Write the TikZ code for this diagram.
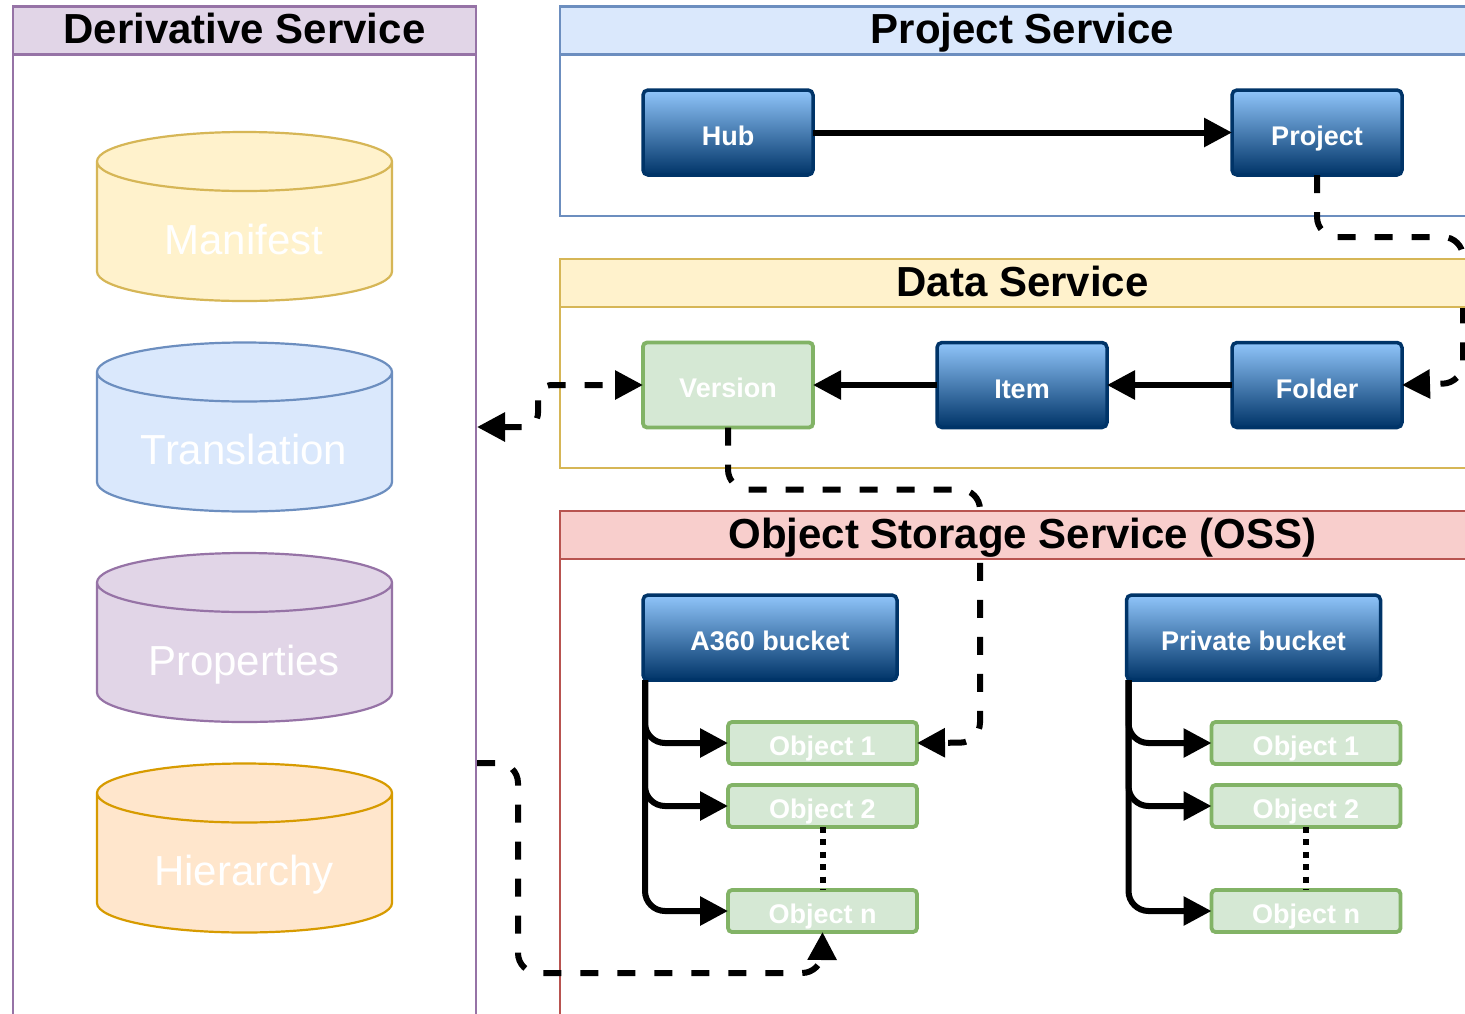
\documentclass[tikz,border=0pt]{standalone}
\usepackage{fontspec}
\setmainfont{Liberation Sans}
\usetikzlibrary{arrows.meta}
\definecolor{blueline}{HTML}{6C8EBF}
\definecolor{bluefill}{HTML}{DAE8FC}
\definecolor{yellowline}{HTML}{D6B656}
\definecolor{yellowfill}{HTML}{FFF2CC}
\definecolor{redline}{HTML}{B85450}
\definecolor{redfill}{HTML}{F8CECC}
\definecolor{purpleline}{HTML}{9673A6}
\definecolor{purplefill}{HTML}{E1D5E7}
\definecolor{orangeline}{HTML}{D79B00}
\definecolor{orangefill}{HTML}{FFE6CC}
\definecolor{greenline}{HTML}{82B366}
\definecolor{greenfill}{HTML}{D5E8D4}
\definecolor{navy}{HTML}{003468}
\definecolor{sky}{HTML}{90C5FA}
\begin{document}
\begin{tikzpicture}[x=1pt, y=-1pt, outer sep=0pt,
	lane/.style = {draw, line width=2.2pt, minimum height=48pt, text height=30pt, text depth=4pt, inner ysep=0pt, font=\fontsize{42}{42}\selectfont\bfseries, text=black},
	body/.style = {draw, line width=2.2pt},
	main/.style = {draw=navy, line width=3.5pt, rounded corners=5pt, top color=sky, bottom color=navy, text=white, minimum height=85pt, text height=28pt, text depth=2pt, font=\fontsize{27}{27}\selectfont\bfseries},
	green/.style = {draw=greenline, fill=greenfill, line width=3.8pt, rounded corners=4pt, text=white, text height=27pt, text depth=2pt, inner ysep=0pt, font=\fontsize{27}{27}\selectfont\bfseries},
	object/.style = {green, minimum width=189pt, minimum height=42pt},
	store/.style = {line width=2.2pt},
	storename/.style = {text=white, text height=30pt, text depth=0pt, inner sep=0pt, font=\fontsize{42}{42}\selectfont},
	solid line/.style = {line width=6pt, rounded corners=20pt, -{Triangle[length=28pt,width=28pt]}},
	dash line/.style = {solid line, dash pattern=on 18pt off 19pt},
	dot line/.style = {line width=6pt, dash pattern=on 6pt off 6.4pt}]
	\path[use as bounding box, clip] (0,0) rectangle (1465,1013);
	\fill[white] (0,0) rectangle (1465,1013);

	\node[body, draw=purpleline, minimum width=463pt, minimum height=1100pt] (derivativebody) at (244.5,600) {};
	\node[body, draw=blueline, minimum width=925pt, minimum height=200pt] (projectbody) at (1022.5,116) {};
	\node[body, draw=yellowline, minimum width=925pt, minimum height=200pt] (databody) at (1022.5,368) {};
	\node[body, draw=redline, minimum width=925pt, minimum height=600pt] (ossbody) at (1022.5,811) {};

	\foreach \c/\tone/\name/\word in {216.5/yellow/manifest/Manifest, 427/blue/translation/Translation, 637.5/purple/properties/Properties, 848/orange/hierarchy/Hierarchy} {
		\filldraw[store, draw=\tone line, fill=\tone fill] (97,\c-55) -- (97,\c+55)
			arc[start angle=180, end angle=360, x radius=147.5pt, y radius=29.5pt] -- (392,\c-55)
			arc[start angle=0, end angle=180, x radius=147.5pt, y radius=29.5pt]
			arc[start angle=180, end angle=360, x radius=147.5pt, y radius=29.5pt];
		\node[storename] (\name) at (244,\c+22.5) {\word};
	}

	\node[main, minimum width=170pt] (hub) at (728,132.5) {Hub};
	\node[main, minimum width=170pt] (project) at (1317,132.5) {Project};
	\node[green, minimum width=170pt, minimum height=85pt] (version) at (728,385) {Version};
	\node[main, minimum width=170pt] (item) at (1022,385) {Item};
	\node[main, minimum width=170pt] (folder) at (1317,385) {Folder};
	\node[main, minimum width=254pt] (a360) at (770,637.5) {A360 bucket};
	\node[main, minimum width=254pt] (private) at (1253.5,637.5) {Private bucket};

	\node[object] (aobject1) at (822.5,743) {Object 1};
	\node[object] (aobject2) at (822.5,806) {Object 2};
	\node[object] (aobjectn) at (822.5,911) {Object n};
	\node[object] (pobject1) at (1306,743) {Object 1};
	\node[object] (pobject2) at (1306,806) {Object 2};
	\node[object] (pobjectn) at (1306,911) {Object n};

	\coordinate (derivativein) at (477,427);
	\coordinate (derivativeout) at (477,763);

	\draw[solid line] (hub.east) -- (project.west);
	\draw[solid line] (item.west) -- (version.east);
	\draw[solid line] (folder.west) -- (item.east);

	\draw[solid line] ([xshift=2pt]a360.south west) |- (aobject1.west);
	\draw[solid line] ([xshift=2pt]a360.south west) |- (aobject2.west);
	\draw[solid line] ([xshift=2pt]a360.south west) |- (aobjectn.west);
	\draw[solid line] ([xshift=2pt]private.south west) |- (pobject1.west);
	\draw[solid line] ([xshift=2pt]private.south west) |- (pobject2.west);
	\draw[solid line] ([xshift=2pt]private.south west) |- (pobjectn.west);
	\draw[dot line] (aobject2.south) -- (aobjectn.north);
	\draw[dot line] (pobject2.south) -- (pobjectn.north);

	\draw[dash line] (project.south) -- ++(0,62) -- ++(146,0) -- ++(0,146) -- (folder.east);
	\draw[dash line] (version.south) -- ++(0,62) -- ++(252,0) -- ++(0,253) -- (aobject1.east);
	\draw[dash line] (derivativeout) -- ++(41,0) -- ++(0,210) -- ++(304,0) [rounded corners=12pt] -- (aobjectn.south);
	\draw[dash line, rounded corners=14pt, {Triangle[length=28pt,width=28pt]}-{Triangle[length=28pt,width=28pt]}] (derivativein) -- ++(61,0) -- ++(0,-42) -- (version.west);

	\node[lane, fill=purplefill, draw=purpleline, minimum width=463pt] (derivative) at (244.5,30.5) {Derivative Service};
	\node[lane, fill=bluefill, draw=blueline, minimum width=925pt] (projecthead) at (1022.5,30.5) {Project Service};
	\node[lane, fill=yellowfill, draw=yellowline, minimum width=925pt] (datahead) at (1022.5,283) {Data Service};
	\node[lane, fill=redfill, draw=redline, minimum width=925pt] (osshead) at (1022.5,535) {Object Storage Service (OSS)};
\end{tikzpicture}
\end{document}
